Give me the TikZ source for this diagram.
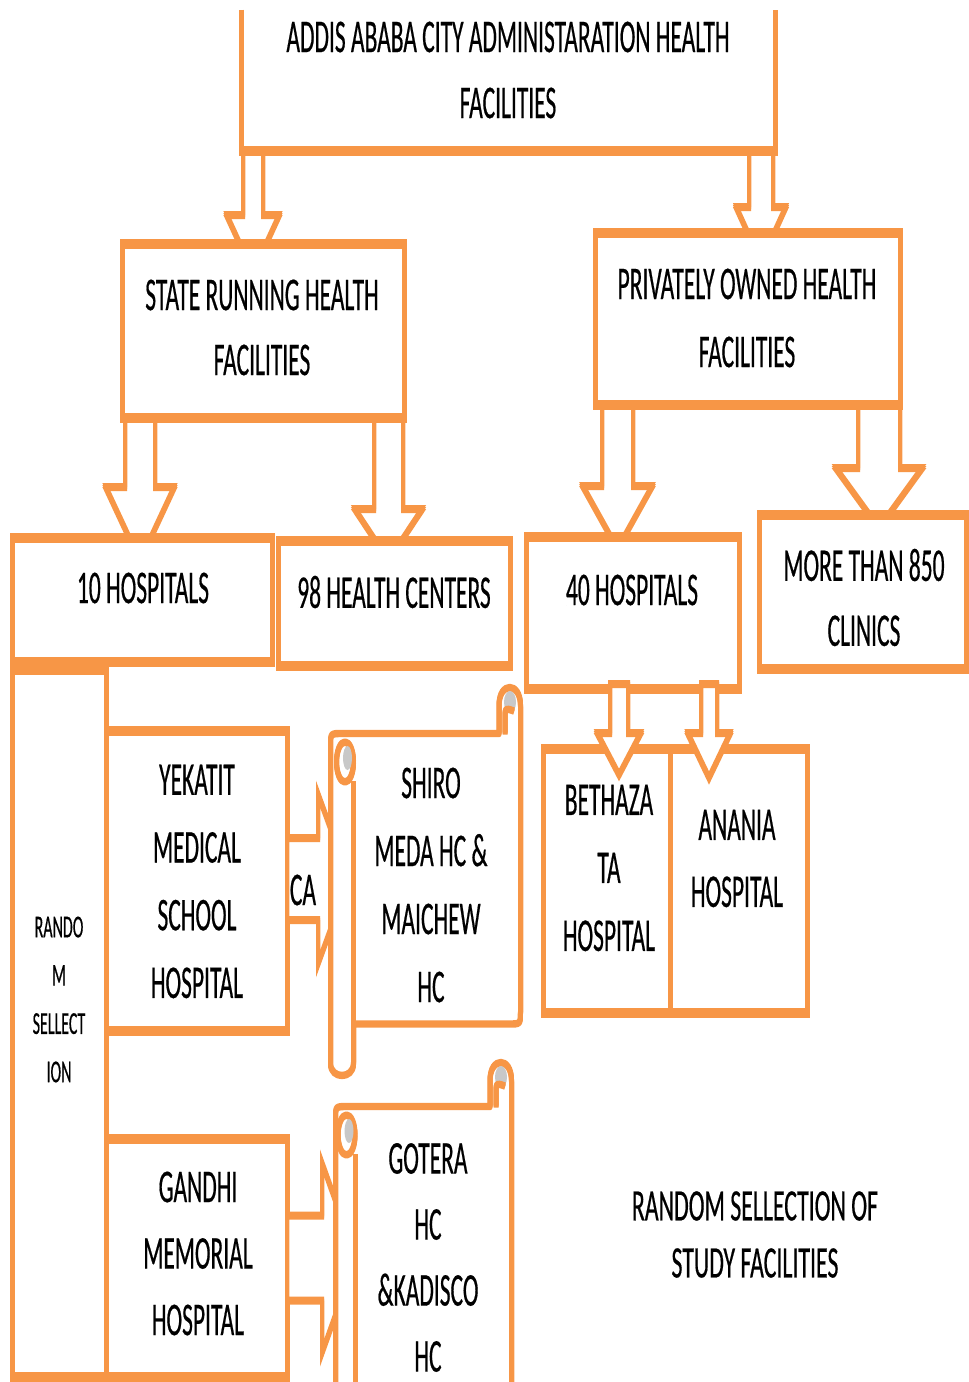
\documentclass[tikz,border=0pt]{standalone}
\usepackage{fontspec}
\setmainfont{Carlito}[FakeStretch=0.5, FakeBold=0.4]
\newfontfamily\notefont{Carlito}[FakeStretch=0.53, FakeBold=0.4]
\usetikzlibrary{fit}
\definecolor{orng}{HTML}{F79646}
\definecolor{curlgray}{HTML}{C8C8C8}
\tikzset{
  orline/.style 2 args={draw=orng, line width=#1,
    postaction={draw=orng, line width=#1, transform canvas={yshift=#2}},
    postaction={draw=orng, line width=#1, transform canvas={yshift=-#2}}},
  obox/.style={fill=white, orline={5pt}{2.5pt}, inner sep=0pt, outer sep=0pt},
  blockarrow/.style={fill=white, orline={4pt}{2pt}, line join=miter},
  scrollline/.style={orline={5pt}{1.2pt}, line join=round},
  lbl/.style={align=center, inner sep=0pt, text=black, font=\fontsize{47}{#1}\selectfont},
  lbl/.default=67,
  pics/downarrow/.style n args={4}{code={
    \draw[blockarrow] (-#1,0) -- (-#1,#2) -- (-#3,#2) -- (0,#2+#4) -- (#3,#2) -- (#1,#2) -- (#1,0) -- cycle;}},
  pics/rightarrow/.style n args={4}{code={
    \draw[blockarrow] (0,-#1) -- (#2,-#1) -- (#2,-#3) -- (#2+#4,0) -- (#2,#3) -- (#2,#1) -- (0,#1) -- cycle;}},
}
\begin{document}
\begin{tikzpicture}[x=1pt, y=-1pt]
\useasboundingbox (0,0) rectangle (969,1382);
\clip (0,0) rectangle (969,1382);

% frames of the upper boxes (drawn later), used to place the arrows
\node[inner sep=0pt, outer sep=0pt, fit={(241.5,12) (775,151)}] (top) {};
\node[inner sep=0pt, outer sep=0pt, fit={(122.5,243.5) (404.5,417.5)}] (state) {};
\node[inner sep=0pt, outer sep=0pt, fit={(595.5,233) (900.5,405)}] (priv) {};

% block arrows between the first three levels
\pic at ([xshift=11.5pt]top.south west) {downarrow={10}{64}{26.5}{57.6}};
\pic at ([xshift=-14pt]top.south east) {downarrow={12}{56}{25}{55}};
\pic at ([xshift=17.5pt]state.south west) {downarrow={15}{69.5}{34.5}{74}};
\pic at ([xshift=-16pt]state.south east) {downarrow={14.5}{91.5}{34}{51.5}};
\pic at ([xshift=22pt]priv.south west) {downarrow={15.5}{81}{35}{63}};
\pic at ([xshift=-21.5pt]priv.south east) {downarrow={21}{63}{43.5}{60}};

% top box: three sides only
\draw[orline={5pt}{2.5pt}] (top.north west) -- (top.south west) -- (top.south east) -- (top.north east);

% boxes
\node[obox, fit={(122.5,243.5) (404.5,417.5)}] (stateb) {};
\node[obox, fit={(595.5,233) (900.5,405)}] (privb) {};
\node[obox, fit={(12,537.5) (272.5,661.5)}] (h10) {};
\node[obox, fit={(278,541) (510,666)}] (hc98) {};
\node[obox, fit={(526.5,537) (739.5,689)}] (h40) {};
\node[obox, fit={(759,515) (966,669)}] (clin) {};
\node[obox, fit={(12,670) (106.5,1377)}] (rnd) {};
\node[obox, fit={(106.5,730.5) (287,1030.5)}] (yek) {};
\node[obox, fit={(106.5,1139) (287,1377)}] (gan) {};
\node[obox, fit={(543,749) (670,1013)}] (beth) {};
\node[obox, fit={(670,749) (807,1013)}] (anan) {};

% arrows from the 40 hospitals to the two private hospitals
\pic at ([xshift=92.5pt, yshift=5pt]h40.south west) {downarrow={9}{49}{22}{42}};
\pic at ([xshift=182.5pt, yshift=5pt]h40.south west) {downarrow={8}{49}{21.5}{45}};

% arrows from the public hospitals to the health centres
\pic at ([yshift=1.5pt]yek.east) {rightarrow={41}{31}{85}{31}};
\pic at (gan.east) {rightarrow={42.5}{35}{95}{34}};

% scroll 1
\draw[scrollline, fill=white] (353.5,1024) -- (508.5,1024) .. controls (520.5,1024) .. (520.5,1012)
  -- (520.5,705.5) .. controls (520.5,681.5) and (499,681.5) .. (499,705.5) -- (499,733.5)
  -- (342.5,733.5) .. controls (330.5,733.5) .. (330.5,745.5)
  -- (330.5,1063.5) .. controls (330.5,1079.5) and (353.5,1079.5) .. (353.5,1063.5) -- cycle;
\draw[scrollline] (353.5,1024) -- (353.5,782);
\fill[curlgray] (510,702) ellipse [x radius=6, y radius=11];
\draw[scrollline] (514,711) .. controls (505,708) .. (505,717) -- (505,733.5);
\draw[scrollline, fill=white] (345,762) ellipse [x radius=8.5, y radius=20];
\fill[curlgray] (347.5,758) ellipse [x radius=4.5, y radius=12];

% scroll 2
\draw[scrollline, fill=white] (355,1420) -- (511.5,1420)
  -- (511.5,1080.5) .. controls (511.5,1056.5) and (490,1056.5) .. (490,1080.5) -- (490,1106.5)
  -- (347.5,1106.5) .. controls (335.5,1106.5) .. (335.5,1118.5)
  -- (335.5,1430) -- (355,1430) -- cycle;
\draw[scrollline] (355,1420) -- (355,1155);
\fill[curlgray] (501,1077) ellipse [x radius=6, y radius=11];
\draw[scrollline] (505,1086) .. controls (496,1083) .. (496,1092) -- (496,1106.5);
\draw[scrollline, fill=white] (346.5,1135) ellipse [x radius=8.5, y radius=20];
\fill[curlgray] (349,1131) ellipse [x radius=4.5, y radius=12];

% labels
\node[lbl=66] (ttop) at (508,70) {ADDIS ABABA CITY ADMINISTARATION HEALTH\\FACILITIES};
\node[lbl=65] (tstate) at (262,327.5) {STATE RUNNING HEALTH\\FACILITIES};
\node[lbl=68] (tpriv) at (747,318) {PRIVATELY OWNED HEALTH\\FACILITIES};
\node[lbl] (th10) at (143,588) {10 HOSPITALS};
\node[lbl] (thc98) at (394,592) {98 HEALTH CENTERS};
\node[lbl] (th40) at (632,590) {40 HOSPITALS};
\node[lbl=65] (tclin) at (864,597.5) {MORE THAN 850\\CLINICS};
\node[align=center, inner sep=0pt, font=\fontsize{32}{48.3}\selectfont] (trnd) at (59,999.5) {RANDO\\M\\SELLECT\\ION};
\node[lbl=67.7] (tyek) at (197,881.5) {YEKATIT\\MEDICAL\\SCHOOL\\HOSPITAL};
\node[lbl] (tca) at (303,890) {CA};
\node[lbl=68] (tshiro) at (431,885) {SHIRO\\MEDA HC \&\\MAICHEW\\HC};
\node[lbl=68] (tbeth) at (609,868) {BETHAZA\\TA\\HOSPITAL};
\node[lbl=67] (tanan) at (737,858.5) {ANANIA\\HOSPITAL};
\node[lbl=66.5] (tgan) at (198,1253.5) {GANDHI\\MEMORIAL\\HOSPITAL};
\node[lbl=66] (tgot) at (428,1257.5) {GOTERA\\HC\\\&KADISCO\\HC};
\node[align=center, inner sep=0pt, font=\notefont\fontsize{45}{57}\selectfont] (tsel) at (755,1234.5) {RANDOM SELLECTION OF\\STUDY FACILITIES};
\end{tikzpicture}
\end{document}
